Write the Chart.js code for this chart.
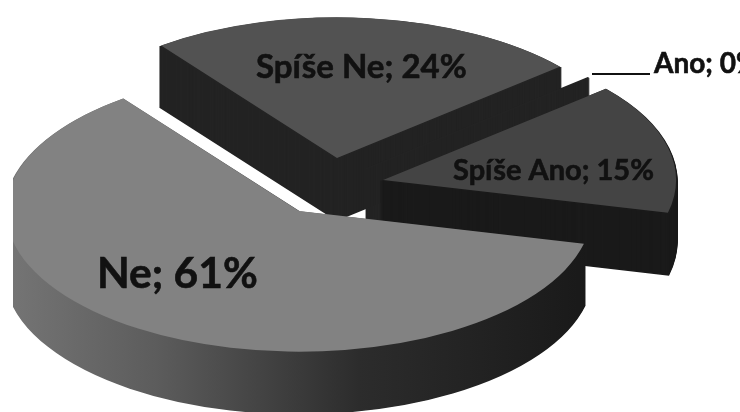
<!DOCTYPE html>
<html lang="cs">
<head>
<meta charset="utf-8">
<title>Graf</title>
<script src="https://cdn.jsdelivr.net/npm/chart.js@4"></script>
<style>
  html, body { margin: 0; padding: 0; background: #fff; overflow: hidden; }
  #chart { display: block; clip-path: inset(0 0 0 13px); }
</style>
</head>
<body>
<canvas id="chart" width="740" height="412"></canvas>
<script>
const categories = ['Ne', 'Spíše Ne', 'Ano', 'Spíše Ano'];
const shares = [61, 24, 0, 15];

const topColors = ['#828282', '#525252', '#333333', '#444444'];
const wallColors = [null, '#232323', '#232323', '#1a1a1a'];
const explodeX = [-30, 8, 37, 54];
const explodeY = [18, -35, -25, -13];
const labelX = [97, 256, 654, 453];
const labelY = [274, 67, 64, 171];
const labelSize = [42.5, 33, 28, 29];

const tilt = 0.48;      // vertical squash of the disc
const depth = 62;       // wall height in px
const centerY = 193;

function wedge(ctx, arc) {
  ctx.beginPath();
  ctx.moveTo(arc.x, arc.y);
  ctx.arc(arc.x, arc.y, arc.outerRadius, arc.startAngle, arc.endAngle);
  ctx.closePath();
}

function tiltCtx(ctx, shift) {
  ctx.translate(0, centerY + shift);
  ctx.scale(1, tilt);
  ctx.translate(0, -centerY);
}

const pie3d = {
  id: 'pie3d',
  afterDatasetsUpdate(chart) {
    // pull each slice out from the middle
    chart.getDatasetMeta(0).data.forEach((arc, i) => {
      arc.x += explodeX[i];
      arc.y += explodeY[i] / tilt;
    });
  },
  beforeDatasetsDraw(chart) {
    const ctx = chart.ctx;
    const arcs = chart.getDatasetMeta(0).data;

    // front wall of the big slice fades from grey to nearly black
    const fade = ctx.createLinearGradient(13, 0, 590, 0);
    fade.addColorStop(0, '#747474');
    fade.addColorStop(0.25, '#5c5c5c');
    fade.addColorStop(0.6, '#2c2c2c');
    fade.addColorStop(1, '#191919');

    // back to front, so nearer walls cover the ones behind
    const order = arcs.map((arc, i) => i).sort((a, b) => arcs[a].y - arcs[b].y);
    order.forEach(i => {
      const color = wallColors[i] || fade;
      for (let d = depth; d > 0; d--) {
        ctx.save();
        tiltCtx(ctx, d);
        wedge(ctx, arcs[i]);
        ctx.fillStyle = color;
        ctx.strokeStyle = color;
        ctx.lineWidth = 3;
        ctx.fill();
        ctx.stroke();
        ctx.restore();
      }
    });

    ctx.save();
    tiltCtx(ctx, 0);
  },
  afterDatasetsDraw(chart) {
    chart.ctx.restore();
  },
  afterDraw(chart) {
    const ctx = chart.ctx;
    ctx.save();
    // leader line of the empty slice
    ctx.strokeStyle = '#111';
    ctx.lineWidth = 2;
    ctx.beginPath();
    ctx.moveTo(592, 74);
    ctx.lineTo(650, 74);
    ctx.stroke();

    ctx.fillStyle = '#111';
    ctx.strokeStyle = '#111';
    ctx.lineWidth = 0.6;
    ctx.textBaseline = 'middle';
    ctx.textAlign = 'left';
    categories.forEach((name, i) => {
      const text = name + '; ' + shares[i] + '%';
      ctx.font = 'bold ' + labelSize[i] + 'px Lato';
      ctx.fillText(text, labelX[i], labelY[i]);
      ctx.strokeText(text, labelX[i], labelY[i]);
    });
    ctx.restore();
  }
};

const ctx = document.getElementById('chart').getContext('2d');
new Chart(ctx, {
  type: 'pie',
  data: {
    labels: categories,
    datasets: [{
      data: shares,
      backgroundColor: topColors,
      borderWidth: 0,
      clip: false
    }]
  },
  options: {
    responsive: false,
    animation: false,
    rotation: 103.5,
    radius: 293,
    layout: { padding: { right: 82, bottom: 26 } },
    plugins: { legend: { display: false }, tooltip: { enabled: false } }
  },
  plugins: [pie3d]
});
</script>
</body>
</html>
